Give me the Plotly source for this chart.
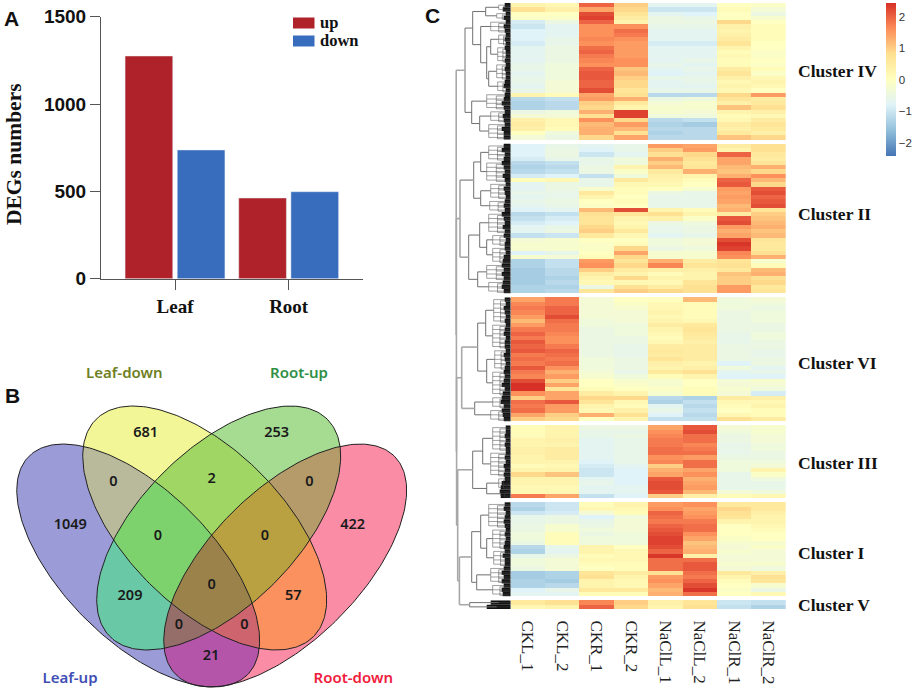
import plotly.graph_objects as go
import numpy as np

W, H = 913, 691
SERIF = "Liberation Serif"
SANS = "Liberation Sans"
VENN = "Noto Sans"

# ---------- Panel A data ----------
tissues = ["Leaf", "Root"]
deg_up = [1275, 462]
deg_down = [737, 498]
legend_names = ["up", "down"]
legend_colors = ["#b0222a", "#386cbc"]

# ---------- Panel B data ----------
set_names = ["Leaf-up", "Leaf-down", "Root-up", "Root-down"]
set_colors = ["#3f4fb4", "#6f7f24", "#2f8f45", "#f0203c"]
set_label_x = [70, 124.3, 299, 353.3]
set_label_y = [679, 374, 374, 679]
ell_cx = [138.2, 204.7, 218.7, 285.2]
ell_cy = [565.5, 528, 528, 565.5]
ell_a = [154.5, 153.7, 153.7, 154.5]
ell_b = [75, 78.3, 78.3, 75]
ell_angle = [45, 45, -45, -45]
venn_counts = ["1049", "681", "253", "422", "0", "2", "0", "0", "0", "209", "0", "57", "0", "0", "21"]
count_x = [70.3, 145.7, 276.7, 352.7, 113.3, 211.7, 309.3, 158, 265, 130, 211.7, 293.3, 179, 244.3, 211]
count_y = [525.7, 433.3, 433.3, 525.7, 482.7, 479, 482.7, 536.7, 536.7, 596.7, 585.7, 596.7, 625, 625, 656.7]
# region colour by membership bitmask: Leaf-up=1, Leaf-down=2, Root-up=4, Root-down=8
region_colors = ["#ffffff", "#9b9bd7", "#f3f696", "#b9b99b", "#a5dc91", "#69c8a5", "#a0d764", "#7dd26e",
                 "#fa8ca5", "#b455aa", "#fa915f", "#cd646e", "#b49b69", "#966e69", "#b9a041", "#9b824b"]

# ---------- Panel C data (values in tenths of a z-score) ----------
samples = ["CKL_1", "CKL_2", "CKR_1", "CKR_2", "NaClL_1", "NaClL_2", "NaClR_1", "NaClR_2"]
cluster_IV = [
 [3,2,20,10,-7,-7,0,-1],[8,4,14,9,-10,-10,1,-3],[0,0,22,7,-7,-8,0,-5],[-1,-1,23,5,-5,-6,0,-2],
 [-9,-5,20,3,-5,-5,9,0],[-10,-7,16,16,-6,-6,4,1],[-8,-7,16,19,-7,-7,3,1],[-8,-7,16,18,-7,-7,4,1],
 [-8,-6,17,16,-7,-7,5,1],[-9,-6,16,15,-9,-9,7,0],[-7,-5,19,15,-7,-7,3,0],[-7,-5,20,15,-7,-7,1,-1],
 [-7,-5,18,15,-7,-7,2,-1],[-7,-5,17,16,-7,-6,1,0],[-6,-4,16,16,-6,-7,1,-1],[-6,-4,20,11,-7,-6,5,1],
 [-7,-4,21,12,-8,-7,7,-1],[-6,-4,21,10,-6,-6,4,2],[-6,-3,20,9,-7,-6,2,3],[-7,-3,20,9,-7,-7,3,2],
 [-6,-3,22,7,-6,-6,2,0],[3,1,14,8,-12,-12,9,15],[-12,-11,15,13,-5,-4,7,5],[-13,-12,10,6,-3,-2,4,6],
 [-13,-12,9,3,-2,-2,11,8],[-5,-4,13,23,-2,-3,3,4],[-3,-3,8,23,-4,-4,1,2],[4,2,16,9,-12,-11,2,5],
 [5,2,12,15,-13,-14,5,7],[4,1,13,12,-12,-12,4,6],[0,-4,13,8,-13,-12,6,4],[-3,-5,9,14,-12,-12,11,9],
]
cluster_II = [
 [-8,-6,-7,-6,15,14,5,8],[-8,-5,-8,-6,10,15,3,8],[-8,-5,-10,-7,8,9,20,6],[-9,-6,-6,-4,13,8,14,5],
 [-12,-11,-6,-4,10,6,14,7],[-13,-12,-5,3,12,7,12,13],[-12,-11,-5,-1,6,13,11,9],[-9,-8,-11,-4,4,3,13,16],
 [1,2,-6,6,3,1,20,12],[-7,-5,-6,2,2,0,21,9],[-7,-5,-2,1,0,-2,15,21],[-6,-6,6,1,-5,-6,14,22],
 [-7,-6,3,0,-6,-6,15,20],[-6,-5,0,1,-6,-6,14,21],[-7,-6,-1,0,-6,-6,12,22],[-8,-7,12,22,3,1,13,7],
 [-12,-11,8,7,8,3,5,10],[-11,-9,7,3,4,-1,21,11],[-9,-8,7,2,-5,-4,22,12],[-7,-6,9,3,-6,-5,15,13],
 [-7,-5,10,6,-6,-5,13,11],[-11,-10,6,2,-7,-6,14,12],[-3,-2,0,0,-4,-3,22,7],[-2,-2,-1,1,-4,-3,24,6],
 [-2,-2,-1,9,-5,-4,23,6],[-8,-6,0,14,-2,-2,17,8],[-2,-3,1,9,-2,-2,16,13],[-13,-11,15,7,13,5,7,-2],
 [-13,-11,16,9,17,7,8,1],[-14,-12,10,5,4,4,6,12],[-14,-12,5,3,1,3,11,13],[-14,-13,3,9,3,3,10,8],
 [-14,-12,2,2,2,7,10,9],[-13,-13,-5,8,5,8,15,6],[-13,-12,7,10,9,8,15,7],
]
cluster_VI = [
 [14,18,-3,0,0,12,-4,-3],[17,18,-3,-1,2,1,-4,-4],[18,20,-3,-2,2,1,-4,-5],[17,20,-3,-3,3,1,-5,-4],
 [15,22,-3,-3,2,1,-5,-4],[12,19,-4,-3,3,2,-5,-4],[15,18,-4,-4,5,6,-5,-5],[18,18,-5,-4,3,7,-5,-5],
 [20,17,-5,-4,2,6,-6,-4],[18,16,-5,-5,1,5,-6,-4],[21,16,-5,-5,2,4,-6,-5],[20,18,-5,-6,5,5,-5,-5],
 [21,20,-5,-6,6,5,-5,-6],[18,19,-5,-6,5,5,-5,-6],[19,18,-4,-5,7,5,-5,-5],[18,19,-4,-5,4,3,-8,-5],
 [21,16,-4,-5,3,4,-4,-7],[18,13,-3,-6,6,8,-7,-6],[17,15,-2,-4,1,3,-8,-8],[22,10,0,-2,-2,0,-3,-2],
 [25,14,0,-1,-2,0,-3,-3],[25,7,1,0,-1,1,-2,-4],[16,14,5,3,-2,1,-3,-9],[10,14,9,9,-12,-13,5,4],
 [19,21,7,2,-13,-11,2,2],[18,15,3,1,-7,-12,1,3],[19,15,2,4,-6,-11,0,1],[14,10,13,8,-8,-12,2,1],
 [10,9,0,3,-11,-11,8,5],
]
cluster_III = [
 [1,3,-5,-5,14,21,-3,-2],[1,3,-6,-6,16,22,-4,-2],[1,3,-6,-5,17,19,-5,-3],[3,4,-7,-6,18,19,-5,-3],
 [3,3,-7,-6,18,17,-6,-4],[4,5,-7,-6,19,18,-6,-4],[4,5,-7,-6,19,19,-6,-5],[3,5,-7,-6,16,15,-5,-5],
 [3,3,-8,-6,17,19,-4,-4],[1,2,-9,-7,10,19,-4,-3],[3,3,-10,-8,13,14,-4,3],[9,11,-10,-8,14,16,-6,-1],
 [3,3,-7,-8,21,13,-6,-4],[3,3,-6,-8,22,14,-6,-6],[2,2,-7,-7,22,15,-6,-6],[2,2,-7,-7,21,12,-3,-4],
 [18,14,-11,-8,10,4,1,2],
]
cluster_I = [
 [-12,-10,1,3,15,16,6,6],[-13,-10,2,2,16,14,9,6],[-10,-9,-3,1,20,15,8,4],[-6,-5,-8,-4,19,16,7,3],
 [-6,-5,-6,-3,18,18,3,3],[-5,-2,-5,-3,20,19,0,2],[-5,-2,-4,-3,21,19,0,1],[-4,1,-5,-4,22,16,0,0],
 [-4,1,-4,-4,23,14,-1,0],[-5,1,-4,-4,23,11,-2,-2],[-12,-6,3,0,22,12,-3,-1],[-13,-7,3,2,20,13,-2,-3],
 [-6,-5,1,2,24,4,-3,-3],[-4,-3,2,2,19,19,-3,-3],[-4,-3,1,1,19,21,-2,-2],[-5,-3,0,1,19,21,-3,-4],
 [-14,-13,7,5,8,19,6,4],[-14,-13,8,3,15,18,3,8],[-13,-14,3,2,16,20,1,7],[-13,-12,3,2,14,22,0,-2],
 [-8,-6,6,6,12,24,-1,-5],[-7,-7,1,1,13,19,0,2],
]
cluster_V = [
 [6,8,17,10,4,7,-10,-11],[2,3,20,9,3,8,-11,-13],
]
clusters = [cluster_IV, cluster_II, cluster_VI, cluster_III, cluster_I, cluster_V]
cluster_names = ["Cluster IV", "Cluster II", "Cluster VI", "Cluster III", "Cluster I", "Cluster V"]
cluster_label_y = [71, 214, 363, 463, 553, 605]

# black leaf fringe of the dendrogram, one length per heatmap row (gap rows are 0)
leaf_fringe = [
 6,8,5,7,5,7,6,5,6,5,6,5,5,6,5,6,5,5,6,7,5,6,7,9,7,6,8,7,6,9,7,7, 0,
 7,9,6,7,9,7,6,8,6,5,7,6,5,6,7,6,9,7,6,8,6,7,5,6,6,5,7,8,9,7,9,7,8,9,7, 0,
 6,5,7,6,5,6,5,6,7,5,6,6,5,7,6,5,6,7,6,7,9,6,8,9,10,7,9,8,7, 0,
 5,5,6,5,6,5,5,6,5,7,6,7,6,9,10,11,10, 0,
 6,7,5,6,7,6,5,6,5,6,7,6,8,6,6,7,9,7,9,7,9,8, 0,
 20,24,
]

# dendrogram: [height, child, child]; terminal comb: [height, first_row, last_row]
tree_IV = [45.7,
  [38, [25,[12,0,1],[14,2,3]], [30,[20,4,6],[24,[20,[12,7,9],[13,10,13]],[22,[14,14,17],[13,18,20]]]]],
  [39, [24,21,24], [31,[20,25,27],[22,28,31]]]]
tree_II = [50.7,
  [37, [30,[22,33,36],[24,37,41]], [30,[20,42,45],[21,46,48]]],
  [42, [31,[22,49,53],[24,[18,54,56],[18,57,60]]], [33,[24,61,64],[22,65,67]]]]
tree_VI = [49,
  [33, [25,[17,69,74],[18,75,80]], [24,[16,81,85],[18,86,91]]],
  [36, [18,92,94], [20,95,97]]]
tree_III = [38, [28,[18,99,104],[20,105,110]], [24,[12,111,113],[10,114,115]]]
tree_I = [39, [30,[22,117,122],[24,[18,123,127],[17,128,131]]], [34,[20,132,135],[18,136,138]]]
tree_V = [41, [12,140,140], [14,141,141]]
tree = [54.5, tree_IV, [54.3, tree_II, [54.1, tree_VI, [53, tree_III, [51.3, tree_I, tree_V]]]]]

# ---------- helpers ----------
def fx(px): return px / W
def fy(py): return 1 - py / H

# heatmap matrix with blank rows between clusters
z_rows, blank = [], [None] * len(samples)
for i, c in enumerate(clusters):
    if i:
        z_rows.append(blank)
    z_rows.extend([[v / 10 for v in row] for row in c])
row_ids = list(range(len(z_rows)))

# dendrogram segments
top_x, top_y, mid_x, mid_y, comb_x, comb_y = [], [], [], [], [], []
def seg(xs, ys, x0, y0, x1, y1):
    xs += [x0, x1, None]; ys += [y0, y1, None]
def walk(node):
    h = node[0]
    if isinstance(node[1], int):
        lo, hi = node[1], node[2]
        inner = h * 0.6
        if hi > lo:
            seg(comb_x, comb_y, h, lo, h, hi)
            seg(comb_x, comb_y, inner, lo + 0.3, inner, hi + 0.3)
        for r in range(lo, hi + 1):
            seg(comb_x, comb_y, h, r, 0, r)
            if hi > lo:
                seg(comb_x, comb_y, inner, r + 0.3, 0, r + 0.3)
        return h, (lo + hi) / 2
    kids = [walk(k) for k in node[1:]]
    xs, ys = (top_x, top_y) if h >= 49 else (mid_x, mid_y)
    for ch, cy in kids:
        seg(xs, ys, ch, cy, h, cy)
    seg(xs, ys, h, kids[0][1], h, kids[-1][1])
    return h, sum(k[1] for k in kids) / len(kids)
walk(tree)

fig = go.Figure()

# Panel A
fig.add_bar(x=tissues, y=deg_up, name=legend_names[0], marker_color=legend_colors[0], showlegend=False,
            xaxis="x", yaxis="y")
fig.add_bar(x=tissues, y=deg_down, name=legend_names[1], marker_color=legend_colors[1], showlegend=False,
            xaxis="x", yaxis="y")

# Panel B: 1 px raster of membership, then outlines and labels
gx = np.arange(0.5, 430)
gy = np.arange(350.5, 691)
X, Y = np.meshgrid(gx, gy)
mask = np.zeros_like(X, dtype=int)
outlines = []
for k in range(4):
    t = np.radians(ell_angle[k])
    dx, dy = X - ell_cx[k], Y - ell_cy[k]
    u = dx * np.cos(t) + dy * np.sin(t)
    v = -dx * np.sin(t) + dy * np.cos(t)
    mask += ((u / ell_a[k]) ** 2 + (v / ell_b[k]) ** 2 <= 1).astype(int) * (1 << k)
    p = np.linspace(0, 2 * np.pi, 241)
    outlines.append((ell_cx[k] + ell_a[k] * np.cos(p) * np.cos(t) - ell_b[k] * np.sin(p) * np.sin(t),
                     ell_cy[k] + ell_a[k] * np.cos(p) * np.sin(t) + ell_b[k] * np.sin(p) * np.cos(t)))
n = len(region_colors)
scale = []
for i, c in enumerate(region_colors):
    scale += [[i / n, c], [(i + 1) / n, c]]
fig.add_heatmap(x=gx, y=gy, z=mask, zmin=0, zmax=n, colorscale=scale, showscale=False,
                hoverinfo="skip", xaxis="x3", yaxis="y3")
for ox, oy in outlines:
    fig.add_scatter(x=ox, y=oy, mode="lines", line=dict(color="#222222", width=1), showlegend=False,
                    hoverinfo="skip", xaxis="x3", yaxis="y3")
fig.add_scatter(x=count_x, y=count_y, text=venn_counts, mode="text", showlegend=False,
                textfont=dict(family=VENN, size=14.5, color="#1a1a1a", weight=600),
                xaxis="x3", yaxis="y3")
fig.add_scatter(x=set_label_x, y=set_label_y, text=set_names, mode="text", showlegend=False,
                textfont=dict(family=VENN, size=15, color=set_colors, weight=600),
                xaxis="x3", yaxis="y3")

# Panel C
rdylbu = ["#4575B4", "#91BFDB", "#E0F3F8", "#FFFFBF", "#FEE090", "#FC8D59", "#D73027"]
fig.add_heatmap(
    x=samples, y=row_ids, z=z_rows, zmin=-2.42, zmax=2.45,
    colorscale=[[i / 6, c] for i, c in enumerate(rdylbu)], hoverongaps=False,
    xaxis="x2", yaxis="y2",
    colorbar=dict(x=fx(885.7), xanchor="left", y=fy(2.7), yanchor="top", ypad=0, xpad=0,
                  lenmode="pixels", len=153.3, thicknessmode="pixels", thickness=10,
                  outlinewidth=0, ticks="", tickvals=[-2, -1, 0, 1, 2], ticklabelposition="outside",
                  tickfont=dict(family=SANS, size=11.5, color="#333333")),
)
fig.add_bar(x=leaf_fringe, y=row_ids, orientation="h", width=1, marker=dict(color="#111111", line_width=0),
            showlegend=False, hoverinfo="skip", xaxis="x4", yaxis="y2")
fig.add_scatter(x=comb_x, y=comb_y, mode="lines", line=dict(color="#444444", width=0.5), showlegend=False,
                hoverinfo="skip", xaxis="x4", yaxis="y2")
fig.add_scatter(x=mid_x, y=mid_y, mode="lines", line=dict(color="#707070", width=1), showlegend=False,
                hoverinfo="skip", xaxis="x4", yaxis="y2")
fig.add_scatter(x=top_x, y=top_y, mode="lines", line=dict(color="#a8a8a8", width=1.6), showlegend=False,
                hoverinfo="skip", xaxis="x4", yaxis="y2")

annotations = []
for txt, px, py in [("A", 11, 19), ("B", 12.3, 395), ("C", 432, 15)]:
    annotations.append(dict(text=txt, x=fx(px), y=fy(py), xref="paper", yref="paper", showarrow=False,
                            xanchor="center", yanchor="middle",
                            font=dict(family=SANS, size=21, color="#111111", weight="bold")))
for name, py in zip(cluster_names, cluster_label_y):
    annotations.append(dict(text=name, x=fx(796), y=fy(py), xref="paper", yref="paper", showarrow=False,
                            xanchor="left", yanchor="middle",
                            font=dict(family=SERIF, size=17.5, color="#111111", weight="bold")))
annotations.append(dict(text="DEGs numbers", x=fx(14), y=fy(154), xref="paper", yref="paper", showarrow=False,
                        textangle=-90, xanchor="center", yanchor="middle",
                        font=dict(family=SERIF, size=21.5, color="#111111", weight="bold")))

# colour key of panel A
shapes = []
for name, color, top in zip(legend_names, legend_colors, [17.5, 35.5]):
    shapes.append(dict(type="rect", xref="paper", yref="paper", x0=fx(293), x1=fx(314.5), y0=fy(top), y1=fy(top + 11),
                       fillcolor=color, line_width=0))
    annotations.append(dict(text=name, x=fx(318), y=fy(top + 5), xref="paper", yref="paper", showarrow=False,
                            xanchor="left", yanchor="middle",
                            font=dict(family=SERIF, size=16.5, color="#111111", weight="bold")))

hidden = dict(visible=False, showgrid=False, zeroline=False)
fig.update_layout(
    width=W, height=H, margin=dict(l=0, r=0, t=0, b=0, autoexpand=False), autosize=False,
    paper_bgcolor="white", plot_bgcolor="rgba(0,0,0,0)", barmode="group", bargap=0.082, bargroupgap=0.086,
    showlegend=False,
    annotations=annotations, shapes=shapes,
    xaxis=dict(domain=[fx(101), fx(363)], range=[-0.651, 1.654], anchor="y", showgrid=False, zeroline=False,
               showline=True, linecolor="#555555", linewidth=1, ticks="outside", ticklen=10, tickcolor="#555555",
               tickfont=dict(family=SERIF, size=19, color="#111111", weight="bold")),
    yaxis=dict(domain=[fy(278.7), fy(16.7)], range=[0, 1500], anchor="x", showgrid=False, zeroline=False,
               showline=True, linecolor="#555555", linewidth=1, ticks="outside", ticklen=10, tickcolor="#555555",
               tickvals=[0, 500, 1000, 1500],
               tickfont=dict(family=SANS, size=19, color="#111111", weight="bold")),
    xaxis2=dict(domain=[fx(510.7), fx(786)], anchor="y2", showgrid=False, zeroline=False, showline=False,
                ticks="outside", ticklen=7, tickcolor="rgba(0,0,0,0)", tickangle=90,
                tickfont=dict(family=SERIF, size=17, color="#222222")),
    yaxis2=dict(domain=[fy(609), fy(3)], range=[len(z_rows) - 0.5, -0.5], anchor="x2", **hidden),
    xaxis3=dict(domain=[0, fx(430)], range=[0, 430], anchor="y3", **hidden),
    yaxis3=dict(domain=[0, fy(350)], range=[691, 350], anchor="x3", **hidden),
    xaxis4=dict(domain=[fx(454), fx(510.7)], range=[56.7, 0], anchor="y2", **hidden),
)
fig.write_html("out.html", config=dict(displayModeBar=False),
               post_script="document.body.style.margin='0';document.documentElement.style.overflow='hidden';")
